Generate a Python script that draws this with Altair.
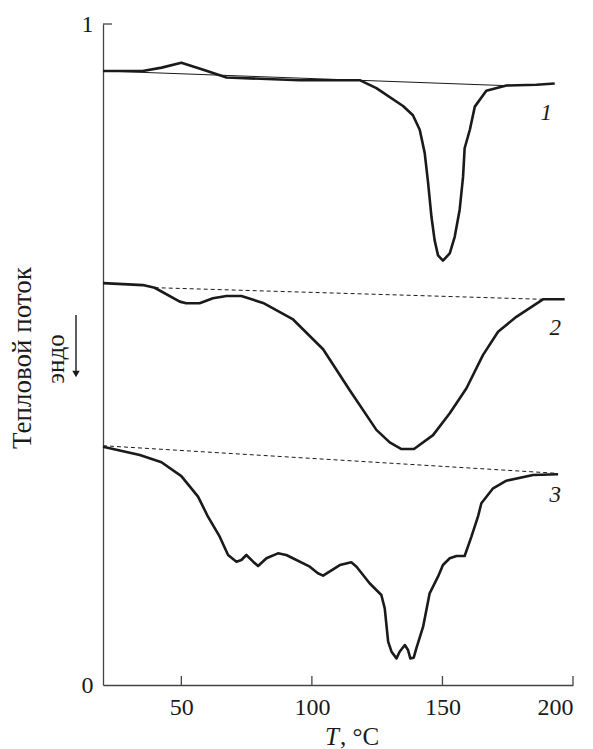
import altair as alt
import pandas as pd

# Curve 1
T1 = [20, 35.2, 42.5, 50.0, 59.0, 67.3, 95.3, 118.3, 124.7, 134.9, 138.7, 141.3, 143.2, 144.5, 145.8,
      147.0, 148.3, 150.2, 152.8, 154.7, 156.6, 157.9, 158.5, 160.5, 162.4, 166.8, 174.5, 186.0, 193.0]
V1 = [0.929, 0.929, 0.934, 0.9415, 0.930, 0.919, 0.915, 0.915, 0.903, 0.876, 0.862, 0.840, 0.805, 0.760, 0.708,
      0.673, 0.650, 0.642, 0.653, 0.678, 0.719, 0.769, 0.812, 0.840, 0.875, 0.899, 0.907, 0.908, 0.910]
# Curve 2
T2 = [20, 35.3, 39.8, 49.4, 51.9, 57.0, 62.1, 67.3, 73.0, 81.3, 92.8, 104.3, 114.5, 124.7, 129.8,
      134.3, 139.1, 146.4, 152.8, 159.2, 165.5, 171.3, 178.3, 188.5, 196.8]
V2 = [0.608, 0.605, 0.601, 0.580, 0.5775, 0.5775, 0.585, 0.5885, 0.5885, 0.578, 0.553, 0.508, 0.446, 0.386, 0.367,
      0.357, 0.357, 0.378, 0.411, 0.449, 0.499, 0.5345, 0.557, 0.5835, 0.5835]
# Curve 3
T3 = [20, 34.1, 42.4, 50.0, 56.4, 60.2, 64.7, 67.9, 71.1, 73.0, 74.9, 77.5, 79.4, 82.6, 87.0, 90.2,
      99.2, 102.3, 104.3, 110.7, 115.1, 117.1, 122.1, 126.6, 127.9, 129.2, 130.5, 132.4, 133.6, 135.6,
      136.8, 137.7, 139.0, 140.0, 142.6, 145.1, 148.3, 150.2, 152.8, 155.4, 158.5, 161.1, 163.6, 164.9,
      169.4, 174.5, 184.7, 194.3]
V3 = [0.3605, 0.348, 0.337, 0.316, 0.285, 0.2546, 0.2244, 0.1967, 0.1866, 0.1891, 0.1967, 0.1866, 0.180, 0.1917, 0.1992, 0.1967,
      0.179, 0.169, 0.1654, 0.1815, 0.1856, 0.179, 0.1539, 0.1362, 0.116, 0.0656, 0.0504, 0.0403, 0.0504, 0.0605,
      0.053, 0.0403, 0.0413, 0.0555, 0.0882, 0.1387, 0.1639, 0.1815, 0.1917, 0.1952, 0.1952, 0.2244, 0.2546, 0.2749,
      0.2976, 0.3091, 0.3177, 0.3188]

# Baselines
BT1 = [20, 174.5]
BV1 = [0.929, 0.9067]
BT2 = [39.8, 188.5]
BV2 = [0.6011, 0.5835]
BT3 = [20, 193.6]
BV3 = [0.362, 0.3203]

# Curve labels
LAB = ["1", "2", "3"]
LAB_T = [189.8, 193.2, 193.2]
LAB_V = [0.865, 0.540, 0.287]

X_TICKS = [50, 100, 150, 200]
Y_TICKS = [0, 1]

SERIF = "Liberation Serif"
INK = "#1a1a1a"
AX = "#444444"

curves = pd.concat([
    pd.DataFrame({"T": T1, "v": V1, "s": "1"}),
    pd.DataFrame({"T": T2, "v": V2, "s": "2"}),
    pd.DataFrame({"T": T3, "v": V3, "s": "3"}),
])
base_solid = pd.DataFrame({"T": BT1, "v": BV1, "s": "1"})
base_dash = pd.concat([
    pd.DataFrame({"T": BT2, "v": BV2, "s": "2"}),
    pd.DataFrame({"T": BT3, "v": BV3, "s": "3"}),
])
labels = pd.DataFrame({"T": LAB_T, "v": LAB_V, "label": LAB})

xs = alt.Scale(domain=[20, 200], nice=False, zero=False)
ys = alt.Scale(domain=[0, 1], nice=False, zero=False)

xax = alt.Axis(values=X_TICKS, ticks=False, tickSize=0, grid=False, title=None, format="d",
               labelFont=SERIF, labelFontSize=24, labelColor=INK, labelPadding=10,
               domainColor=AX, domainWidth=1.3)
yax = alt.Axis(values=Y_TICKS, ticks=False, tickSize=0, grid=False, title=None, format="d",
               labelFont=SERIF, labelFontSize=24, labelColor=INK, labelPadding=10,
               domainColor=AX, domainWidth=1.3)

curve_layer = alt.Chart(curves).mark_line(color=INK, strokeWidth=2.6, strokeJoin="round").encode(
    x=alt.X("T:Q", scale=xs, axis=xax),
    y=alt.Y("v:Q", scale=ys, axis=yax),
    detail="s:N",
)
base1_layer = alt.Chart(base_solid).mark_line(color=INK, strokeWidth=1).encode(
    x="T:Q", y="v:Q", detail="s:N"
)
base2_layer = alt.Chart(base_dash).mark_line(color=INK, strokeWidth=1, strokeDash=[4, 3]).encode(
    x="T:Q", y="v:Q", detail="s:N"
)
label_layer = alt.Chart(labels).mark_text(font=SERIF, fontSize=23, fontStyle="italic", color=INK).encode(
    x="T:Q", y="v:Q", text="label:N"
)

xtick_layer = alt.Chart(pd.DataFrame({"T": X_TICKS})).mark_rule(color=AX, strokeWidth=1.3).encode(
    x="T:Q", y=alt.value(661), y2=alt.value(652)
)
ytick_layer = alt.Chart(pd.DataFrame({"v": [1]})).mark_rule(color=AX, strokeWidth=1.3).encode(
    y="v:Q", x=alt.value(0), x2=alt.value(9)
)

ytitle = alt.Chart(pd.DataFrame({"t": ["Тепловой поток"]})).mark_text(
    font=SERIF, fontSize=27, color=INK, angle=270, align="center", baseline="middle"
).encode(x=alt.value(-80), y=alt.value(334), text="t:N")
endo = alt.Chart(pd.DataFrame({"t": ["эндо"]})).mark_text(
    font=SERIF, fontSize=25, color=INK, angle=270, align="center", baseline="middle"
).encode(x=alt.value(-47), y=alt.value(335), text="t:N")
arrow_line = alt.Chart(pd.DataFrame({"a": [0]})).mark_rect(color=INK).encode(
    x=alt.value(-27.7), x2=alt.value(-26.3), y=alt.value(291), y2=alt.value(347)
)
arrow_head = alt.Chart(pd.DataFrame({"a": [0]})).mark_point(
    shape="triangle-down", filled=True, color=INK, size=55, opacity=1
).encode(x=alt.value(-27), y=alt.value(350))

xt_T = alt.Chart(pd.DataFrame({"t": ["T"]})).mark_text(
    font=SERIF, fontSize=25, fontStyle="italic", color=INK, align="left", baseline="middle"
).encode(x=alt.value(222), y=alt.value(713), text="t:N")
xt_rest = alt.Chart(pd.DataFrame({"t": [", °C"]})).mark_text(
    font=SERIF, fontSize=25, color=INK, align="left", baseline="middle"
).encode(x=alt.value(237), y=alt.value(713), text="t:N")

chart = alt.layer(
    base1_layer, base2_layer, curve_layer, label_layer, xtick_layer, ytick_layer,
    ytitle, endo, arrow_line, arrow_head, xt_T, xt_rest
).properties(
    width=470, height=661,
    autosize=alt.AutoSizeParams(type="none"),
    padding={"left": 95, "top": 16, "right": 10, "bottom": 64},
).configure_view(stroke=None)

chart.save("out.html", embed_options={"renderer": "svg", "actions": False})
